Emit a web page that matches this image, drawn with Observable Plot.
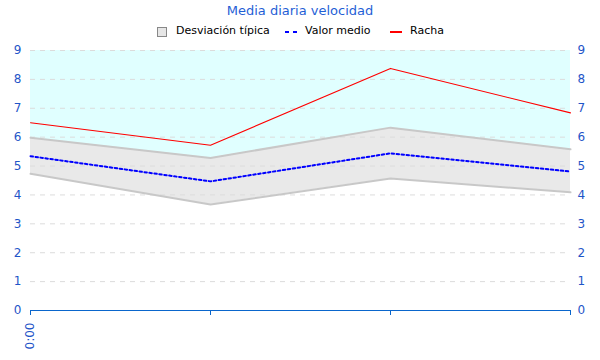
<!DOCTYPE html>
<html><head><meta charset="utf-8">
<script src="https://cdn.jsdelivr.net/npm/d3@7"></script>
<script src="https://cdn.jsdelivr.net/npm/@observablehq/plot@0.6"></script>
<style>
body{margin:0;background:#fff;font-family:"DejaVu Sans",sans-serif;}
#wrap{position:relative;width:600px;height:360px;overflow:hidden;}
#title{position:absolute;top:3px;left:0;width:600px;text-align:center;color:#1f5fd6;font-size:13px;line-height:16px;}
.lg{position:absolute;top:24px;font-size:11px;line-height:14px;color:#000;white-space:nowrap;}
#chart{position:absolute;top:40px;left:0;}
</style></head>
<body>
<div id="wrap">
  <div id="title">Media diaria velocidad</div>
  <div id="legend"></div>
  <div id="chart"></div>
</div>
<script>
const horas = ["0:00", "", "", ""];
const racha = [6.5, 5.72, 8.38, 6.84];
const valorMedio = [5.34, 4.47, 5.44, 4.81];
const desvSup = [5.98, 5.28, 6.33, 5.58];
const desvInf = [4.73, 3.67, 4.57, 4.09];
const yTicks = [0, 1, 2, 3, 4, 5, 6, 7, 8, 9];
const series = ["Desviación típica", "Valor medio", "Racha"];

const data = horas.map((h, i) => ({i, h, racha: racha[i], medio: valorMedio[i], sup: desvSup[i], inf: desvInf[i]}));
const yMax = d3.max(yTicks);
const labelColor = "#1f55c8";
const axisBlue = "#0a66cc";

const chart = Plot.plot({
  width: 600, height: 320,
  marginTop: 10, marginBottom: 50, marginLeft: 30, marginRight: 30,
  x: {domain: [0, horas.length - 1], axis: null, label: null},
  y: {domain: [0, yMax], axis: null, label: null},
  style: {fontFamily: "DejaVu Sans, sans-serif", fontSize: "12px", background: "#fff"},
  marks: [
    Plot.areaY(data, {x: "i", y1: "sup", y2: () => yMax, fill: "#e0ffff"}),
    Plot.areaY(data, {x: "i", y1: "inf", y2: "sup", fill: "#e9e9e9"}),
    Plot.ruleY(yTicks.filter(v => v > 0), {stroke: "#dcdcdc", strokeDasharray: "5,5"}),
    Plot.line(data, {x: "i", y: "sup", stroke: "#c8c8c8", strokeWidth: 2}),
    Plot.line(data, {x: "i", y: "inf", stroke: "#c8c8c8", strokeWidth: 2}),
    Plot.line(data, {x: "i", y: "medio", stroke: "#0000ff", strokeWidth: 2, strokeDasharray: "2.5,2.5"}),
    Plot.line(data, {x: "i", y: "racha", stroke: "#ff0000", strokeWidth: 1.1}),
    Plot.ruleY([0], {stroke: axisBlue, strokeWidth: 1.2}),
    Plot.axisY({anchor: "left", ticks: yTicks, tickSize: 0, tickPadding: 9, color: labelColor, fontSize: 12, label: null}),
    Plot.axisY({anchor: "right", ticks: yTicks, tickSize: 0, tickPadding: 7, color: labelColor, fontSize: 12, label: null}),
    Plot.axisX({ticks: d3.range(horas.length), tickFormat: i => horas[i], tickSize: 5, tickPadding: 7, tickRotate: -90, stroke: axisBlue, fill: labelColor, fontSize: 12, label: null})
  ]
});
document.getElementById("chart").appendChild(chart);

// legend
const lg = document.getElementById("legend");
const items = [
  {x: 157, kind: "box"}, {x: 176, text: series[0]},
  {x: 285, kind: "dot"}, {x: 305, text: series[1]},
  {x: 390, kind: "line"}, {x: 410, text: series[2]}
];
items.forEach(it => {
  if (it.text) {
    const s = document.createElement("div");
    s.className = "lg"; s.style.left = it.x + "px"; s.textContent = it.text; lg.appendChild(s);
  } else {
    const ns = "http://www.w3.org/2000/svg";
    const svg = document.createElementNS(ns, "svg");
    svg.setAttribute("width", 14); svg.setAttribute("height", 12);
    svg.style.position = "absolute"; svg.style.left = it.x + "px"; svg.style.top = "26px";
    let el;
    if (it.kind === "box") {
      el = document.createElementNS(ns, "rect");
      el.setAttribute("x", 0.5); el.setAttribute("y", 1.5); el.setAttribute("width", 9); el.setAttribute("height", 9);
      el.setAttribute("fill", "#e6e6e6"); el.setAttribute("stroke", "#888");
    } else {
      el = document.createElementNS(ns, "line");
      el.setAttribute("x1", 0); el.setAttribute("x2", 12); el.setAttribute("y1", 6); el.setAttribute("y2", 6);
      el.setAttribute("stroke-width", 2);
      el.setAttribute("stroke", it.kind === "dot" ? "#0000ff" : "#ff0000");
      if (it.kind === "dot") el.setAttribute("stroke-dasharray", "4,4");
    }
    svg.appendChild(el); lg.appendChild(svg);
  }
});
</script>
</body></html>
